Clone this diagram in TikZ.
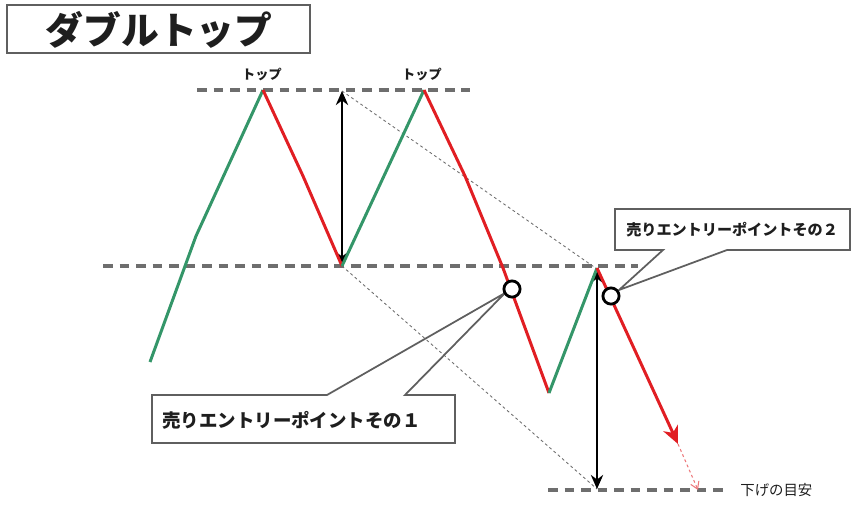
\documentclass[tikz,border=0pt]{standalone}
\usepackage{fontspec}
\newfontfamily\jpfont{Noto Sans CJK JP}
\definecolor{BullGreen}{RGB}{52,150,105}
\definecolor{BearRed}  {RGB}{225,30,35}
\definecolor{GuideGray}{RGB}{110,110,110}
\definecolor{BoxGray}  {RGB}{95,95,95}
\definecolor{TextDark} {RGB}{30,30,30}
\usetikzlibrary{arrows.meta}

\begin{document}
\begin{tikzpicture}[x=0.02cm,y=-0.02cm,
    guide/.style={GuideGray,line width=1.9pt,dash pattern=on 5.6pt off 3.8pt},
    proj/.style={GuideGray,line width=0.5pt,dash pattern=on 1.6pt off 1.6pt},
    rise/.style={BullGreen,line width=1.7pt,line join=round},
    fall/.style={BearRed,line width=1.7pt,line join=round},
    span/.style={line width=1.2pt,{Stealth[length=8pt,width=7pt]}-{Stealth[length=8pt,width=7pt]}},
    balloon/.style={draw=BoxGray,line width=1pt,line join=miter},
    ring/.style={draw=black,line width=1.6pt,fill=white},
    lbl/.style={font=\jpfont\bfseries,text=TextDark,inner sep=0pt}]
  \useasboundingbox (0,0) rectangle (852,504);
  % Title
  \draw[BoxGray,line width=1.6pt] (7,5) rectangle (310,53);
  \node[lbl,font=\jpfont\bfseries\fontsize{21.5}{26}\selectfont] (title) at (159,30) {ダブルトップ};
  % Price swing points
  \coordinate (p0) at (150,362);
  \coordinate (p1) at (263,90);
  \coordinate (p2) at (342,266);
  \coordinate (p3) at (424,90);
  \coordinate (p4) at (549,393);
  \coordinate (p5) at (597,268);
  \coordinate (p6) at (678,444);
  \coordinate (p7) at (698,490);
  % Guide lines (tops, neckline, target)
  \draw[guide] (197,90) -- (470,90);
  \draw[guide] (103,266) -- (638,266);
  \draw[guide] (548,490) -- (727,490);
  \node[lbl,font=\jpfont\bfseries\fontsize{7.5}{9}\selectfont] (topA) at (262,74) {トップ};
  \node[lbl,font=\jpfont\bfseries\fontsize{7.5}{9}\selectfont] (topB) at (422,74) {トップ};
  \node[lbl,font=\jpfont\fontsize{8.2}{10}\selectfont,anchor=west] (target) at (740,490) {下げの目安};
  % Height projected from the neckline
  \coordinate (hA) at (342,91);
  \coordinate (hB) at (597,269);
  \coordinate (hC) at (597,489);
  \draw[proj] (hA) -- (hB);
  \draw[proj] (p2) -- (hC);
  \draw[span] (p2) -- (hA);
  \draw[span] (hB) -- (hC);
  % Price path
  \draw[rise] (p0) -- (196,236) -- (p1);
  \draw[fall] (p1) -- (303,176) -- (p2);
  \draw[rise] (p2) -- (p3);
  \draw[fall] (p3) -- (465,176) -- (503,268) -- (p4);
  \draw[rise] (p4) -- (p5);
  \draw[fall,-{Stealth[length=10pt,width=9pt,inset=3pt]}] (p5) -- (p6);
  \draw[BearRed!60,line width=0.6pt,dash pattern=on 1.6pt off 1.6pt,
        -{Straight Barb[length=4pt,width=5pt]}] (p6) -- (p7);
  % Entry points
  \coordinate (entA) at (512,289);
  \coordinate (entB) at (611,296);
  % Callout for entry 1
  \draw[balloon] (327,395) -- (152,395) -- (152,443) -- (455,443) -- (455,395)
       -- (405,395) -- (505,293) -- cycle;
  \node[lbl,font=\jpfont\bfseries\fontsize{10.5}{12}\selectfont,anchor=west] (calloutA)
       at (162,420) {売りエントリーポイントその１};
  % Callout for entry 2
  \draw[balloon] (663,250) -- (615,250) -- (615,209) -- (850,209) -- (850,250)
       -- (727,250) -- (619,290) -- cycle;
  \node[lbl,font=\jpfont\bfseries\fontsize{8.6}{10}\selectfont,anchor=west] (calloutB)
       at (626,230) {売りエントリーポイントその２};
  \draw[ring] (entA) circle[radius=4.6pt];
  \draw[ring] (entB) circle[radius=4.6pt];
\end{tikzpicture}
\end{document}
